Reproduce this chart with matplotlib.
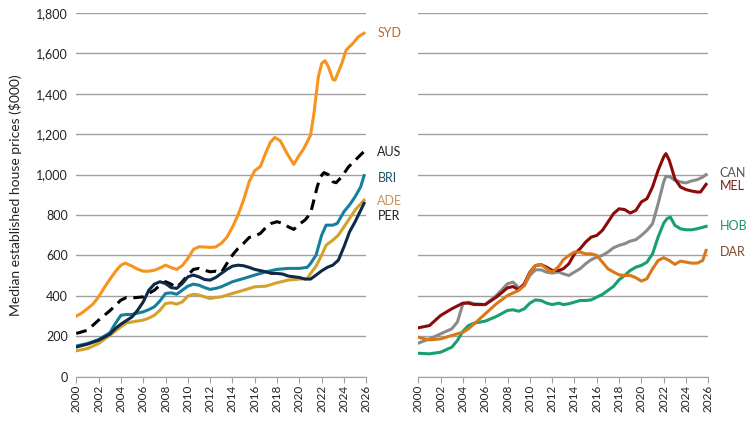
import matplotlib
matplotlib.use("Agg")
import matplotlib.pyplot as plt

plt.rcParams['font.family'] = ['Lato', 'DejaVu Sans']

# values ($000), year positions per series
syd_x = [2000, 2000.5, 2001, 2001.5, 2002, 2002.5, 2003, 2003.5, 2004, 2004.4, 2005, 2005.5, 2006, 2006.5,
         2007, 2007.5, 2008, 2008.5, 2009, 2009.5, 2010, 2010.5, 2011, 2011.5, 2012, 2012.5, 2013, 2013.5,
         2014, 2014.5, 2015, 2015.5, 2016, 2016.5, 2017, 2017.4, 2017.8, 2018.3, 2018.9, 2019.5, 2019.9,
         2020.4, 2021, 2021.3, 2021.7, 2022, 2022.3, 2022.6, 2023, 2023.2, 2023.8, 2024.2, 2024.8, 2025.3, 2025.8]
syd_y = [300, 315, 337, 360, 395, 440, 481, 520, 552, 562, 547, 532, 522, 522,
         527, 538, 552, 540, 531, 550, 585, 630, 643, 642, 640, 642, 660, 690,
         740, 800, 875, 965, 1020, 1040, 1110, 1160, 1184, 1167, 1104, 1051, 1088,
         1129, 1195, 1300, 1484, 1550, 1564, 1534, 1471, 1468, 1550, 1617, 1650, 1683, 1700]

aus_x = [2000, 2001, 2002, 2003, 2004, 2004.5, 2005, 2006, 2006.5, 2007, 2007.5, 2008, 2008.5, 2009, 2009.5,
         2010, 2010.5, 2011, 2011.5, 2012, 2012.5, 2013, 2013.5, 2014, 2014.5, 2015, 2015.5, 2016, 2016.5,
         2017, 2017.5, 2018, 2018.5, 2019, 2019.5, 2020, 2020.5, 2021, 2021.3, 2021.6, 2021.9, 2022.2,
         2022.6, 2023, 2023.3, 2023.8, 2024.4, 2025, 2025.8]
aus_y = [214, 230, 280, 326, 379, 392, 390, 395, 412, 428, 453, 470, 458, 441, 470,
         503, 531, 536, 527, 519, 522, 515, 560, 602, 635, 660, 689, 696, 709,
         739, 759, 767, 759, 742, 729, 755, 775, 808, 874, 940, 990, 1010,
         1000, 965, 960, 990, 1038, 1071, 1115]

bri_x = [2000, 2001, 2002, 2003, 2003.5, 2004, 2004.5, 2005, 2006, 2006.5, 2007, 2007.5, 2008, 2008.5, 2009,
         2009.5, 2010, 2010.5, 2011, 2011.5, 2012, 2012.5, 2013, 2014, 2015, 2016, 2017, 2018, 2019, 2020,
         2020.7, 2021, 2021.5, 2022, 2022.4, 2023, 2023.4, 2024, 2024.5, 2025, 2025.5, 2025.8]
bri_y = [152, 164, 184, 217, 263, 304, 308, 308, 321, 332, 346, 375, 412, 415, 408,
         428, 448, 458, 453, 441, 432, 437, 445, 470, 486, 503, 519, 531, 536, 536,
         541, 560, 602, 701, 750, 750, 759, 817, 850, 891, 940, 995]

ade_x = [2000, 2001, 2002, 2003, 2004, 2004.5, 2005, 2006, 2006.5, 2007, 2007.5, 2008, 2008.5, 2009, 2009.5,
         2010, 2010.5, 2011, 2011.5, 2012, 2012.5, 2013, 2014, 2015, 2016, 2017, 2018, 2019, 2020, 2020.7,
         2021, 2021.5, 2022, 2022.4, 2023, 2023.5, 2024, 2024.5, 2025, 2025.8]
ade_y = [128, 139, 164, 205, 247, 266, 271, 280, 290, 304, 329, 362, 366, 359, 370,
         399, 408, 404, 395, 387, 392, 395, 412, 428, 445, 448, 465, 478, 483, 486,
         511, 547, 602, 651, 676, 701, 742, 783, 825, 874]

per_x = [2000, 2001, 2002, 2003, 2003.5, 2004, 2005, 2005.5, 2006, 2006.5, 2007, 2007.5, 2008, 2008.5, 2009,
         2009.5, 2010, 2010.5, 2011, 2011.5, 2012, 2012.5, 2013, 2013.5, 2014, 2014.5, 2015, 2015.5, 2016,
         2017, 2017.5, 2018, 2018.5, 2019, 2020, 2020.5, 2021, 2021.5, 2022, 2022.5, 2023, 2023.5, 2024,
         2024.5, 2025, 2025.8]
per_y = [147, 161, 180, 210, 238, 260, 296, 329, 370, 428, 458, 470, 461, 441, 437,
         461, 494, 503, 494, 481, 478, 491, 511, 531, 547, 552, 549, 541, 531,
         519, 511, 511, 508, 498, 491, 483, 483, 503, 524, 541, 552, 577, 643,
         717, 767, 858]

mel_x = [2000, 2001, 2001.5, 2002, 2003, 2004, 2004.5, 2005, 2006, 2007, 2008, 2008.5, 2009, 2009.5, 2010,
         2010.5, 2011, 2011.5, 2012, 2012.6, 2013, 2013.5, 2014, 2014.5, 2015, 2015.5, 2016, 2016.5, 2017,
         2017.5, 2018, 2018.5, 2019, 2019.5, 2020, 2020.5, 2021, 2021.5, 2022, 2022.2, 2022.5, 2023, 2023.5,
         2024, 2024.5, 2025, 2025.3, 2025.8]
mel_y = [242, 253, 278, 303, 336, 364, 364, 357, 357, 394, 440, 446, 430, 460, 517,
         550, 555, 542, 526, 526, 534, 559, 608, 633, 666, 691, 699, 724, 765,
         807, 831, 827, 810, 823, 865, 881, 939, 1021, 1088, 1104, 1071, 980, 939,
         926, 919, 914, 914, 952]

can_x = [2000, 2001, 2002, 2003, 2003.5, 2004, 2004.5, 2005, 2006, 2007, 2008, 2008.5, 2009, 2009.5, 2010,
         2010.5, 2011, 2011.5, 2012, 2012.6, 2013, 2013.5, 2014, 2014.5, 2015, 2015.5, 2016, 2016.5, 2017,
         2017.5, 2018, 2018.5, 2019, 2019.5, 2020, 2020.5, 2021, 2021.5, 2022, 2022.2, 2022.6, 2023, 2023.5,
         2024, 2024.5, 2025, 2025.5, 2025.8]
can_y = [166, 187, 212, 237, 270, 361, 369, 361, 357, 402, 460, 468, 440, 451, 501,
         529, 529, 517, 513, 518, 509, 501, 518, 534, 559, 579, 592, 600, 617,
         638, 650, 658, 671, 678, 699, 724, 757, 856, 964, 992, 988, 972, 964,
         959, 969, 975, 988, 1000]

hob_x = [2000, 2001, 2002, 2003, 2003.5, 2004, 2004.5, 2005, 2006, 2007, 2008, 2008.5, 2009, 2009.5, 2010,
         2010.5, 2011, 2011.5, 2012, 2012.6, 2013, 2013.5, 2014, 2014.5, 2015, 2015.5, 2016, 2016.5, 2017,
         2017.5, 2018, 2018.5, 2019, 2019.5, 2020, 2020.5, 2021, 2021.5, 2022, 2022.3, 2022.6, 2023, 2023.5,
         2024, 2024.5, 2025, 2025.8]
hob_y = [116, 113, 121, 146, 179, 225, 253, 265, 275, 298, 328, 331, 324, 336, 364,
         380, 377, 364, 357, 364, 357, 361, 369, 377, 377, 380, 394, 407, 427,
         447, 480, 501, 526, 542, 551, 567, 608, 691, 760, 782, 790, 749, 732,
         727, 727, 732, 744]

dar_x = [2000, 2001, 2002, 2003, 2004, 2004.5, 2005, 2006, 2007, 2008, 2009, 2009.5, 2010, 2010.5, 2011,
         2011.5, 2012, 2012.6, 2013, 2013.5, 2014, 2014.5, 2015, 2015.5, 2016, 2016.5, 2017, 2017.5, 2018,
         2018.5, 2019, 2019.5, 2020, 2020.5, 2021, 2021.5, 2022, 2022.5, 2023, 2023.5, 2024, 2024.5, 2025,
         2025.5, 2025.8]
dar_y = [195, 182, 187, 204, 220, 237, 261, 311, 361, 402, 427, 451, 513, 550, 555,
         534, 517, 546, 579, 600, 617, 617, 608, 608, 600, 567, 534, 518, 504,
         501, 501, 490, 473, 485, 534, 575, 589, 575, 556, 572, 567, 562, 562,
         575, 625]

left_series = [
    ("SYD", syd_x, syd_y, "#F7941D", "#C0652B", "-", 1703),
    ("AUS", aus_x, aus_y, "#000000", "#222222", "--", 1113),
    ("BRI", bri_x, bri_y, "#16809C", "#1E5566", "-", 984),
    ("ADE", ade_x, ade_y, "#D4A22A", "#C8955A", "-", 870),
    ("PER", per_x, per_y, "#0E2A47", "#222222", "-", 796),
]
right_series = [
    ("CAN", can_x, can_y, "#8A8A8A", "#555555", "-", 1009),
    ("MEL", mel_x, mel_y, "#8B0A0A", "#7B1E1E", "-", 944),
    ("HOB", hob_x, hob_y, "#17A06E", "#1A8F6A", "-", 746),
    ("DAR", dar_x, dar_y, "#D9781A", "#7A4A2A", "-", 618),
]

fig = plt.figure(figsize=(7.54, 4.24), dpi=100)
ax1 = fig.add_axes([0.1012, 0.1116, 0.3846, 0.8577])
ax2 = fig.add_axes([0.5548, 0.1116, 0.3846, 0.8577])

for ax, series in [(ax1, left_series), (ax2, right_series)]:
    for name, xs, ys, col, lcol, ls, ly in series:
        if ls == "--":
            ax.plot(xs, ys, color=col, lw=2.2, ls=(0, (3.5, 2.2)), zorder=3)
        else:
            ax.plot(xs, ys, color=col, lw=2.2, zorder=3)
        ax.text(2027, ly, name, color=lcol, fontsize=9, va="center", ha="left", clip_on=False)
    ax.set_xlim(2000, 2026)
    ax.set_ylim(0, 1800)
    ax.set_xticks(range(2000, 2027, 2))
    ax.set_xticklabels([str(y) for y in range(2000, 2027, 2)], rotation=90, fontsize=8.5, color="#222222")
    ax.set_yticks(range(0, 1801, 200))
    ax.yaxis.grid(True, color="#A0A0A0", lw=1.0)
    ax.set_axisbelow(True)
    for s in ["top", "right", "left"]:
        ax.spines[s].set_visible(False)
    ax.spines["bottom"].set_color("#A0A0A0")
    ax.tick_params(axis="x", length=4, color="#A0A0A0", pad=2)
    ax.tick_params(axis="y", length=0, pad=6)

ax1.set_yticklabels(["{:,}".format(v) for v in range(0, 1801, 200)], fontsize=9, color="#222222")
ax2.set_yticklabels([])
ax1.set_ylabel("Median established house prices ($000)", fontsize=10, color="#222222", labelpad=10)

fig.savefig("out.png", dpi=100)
